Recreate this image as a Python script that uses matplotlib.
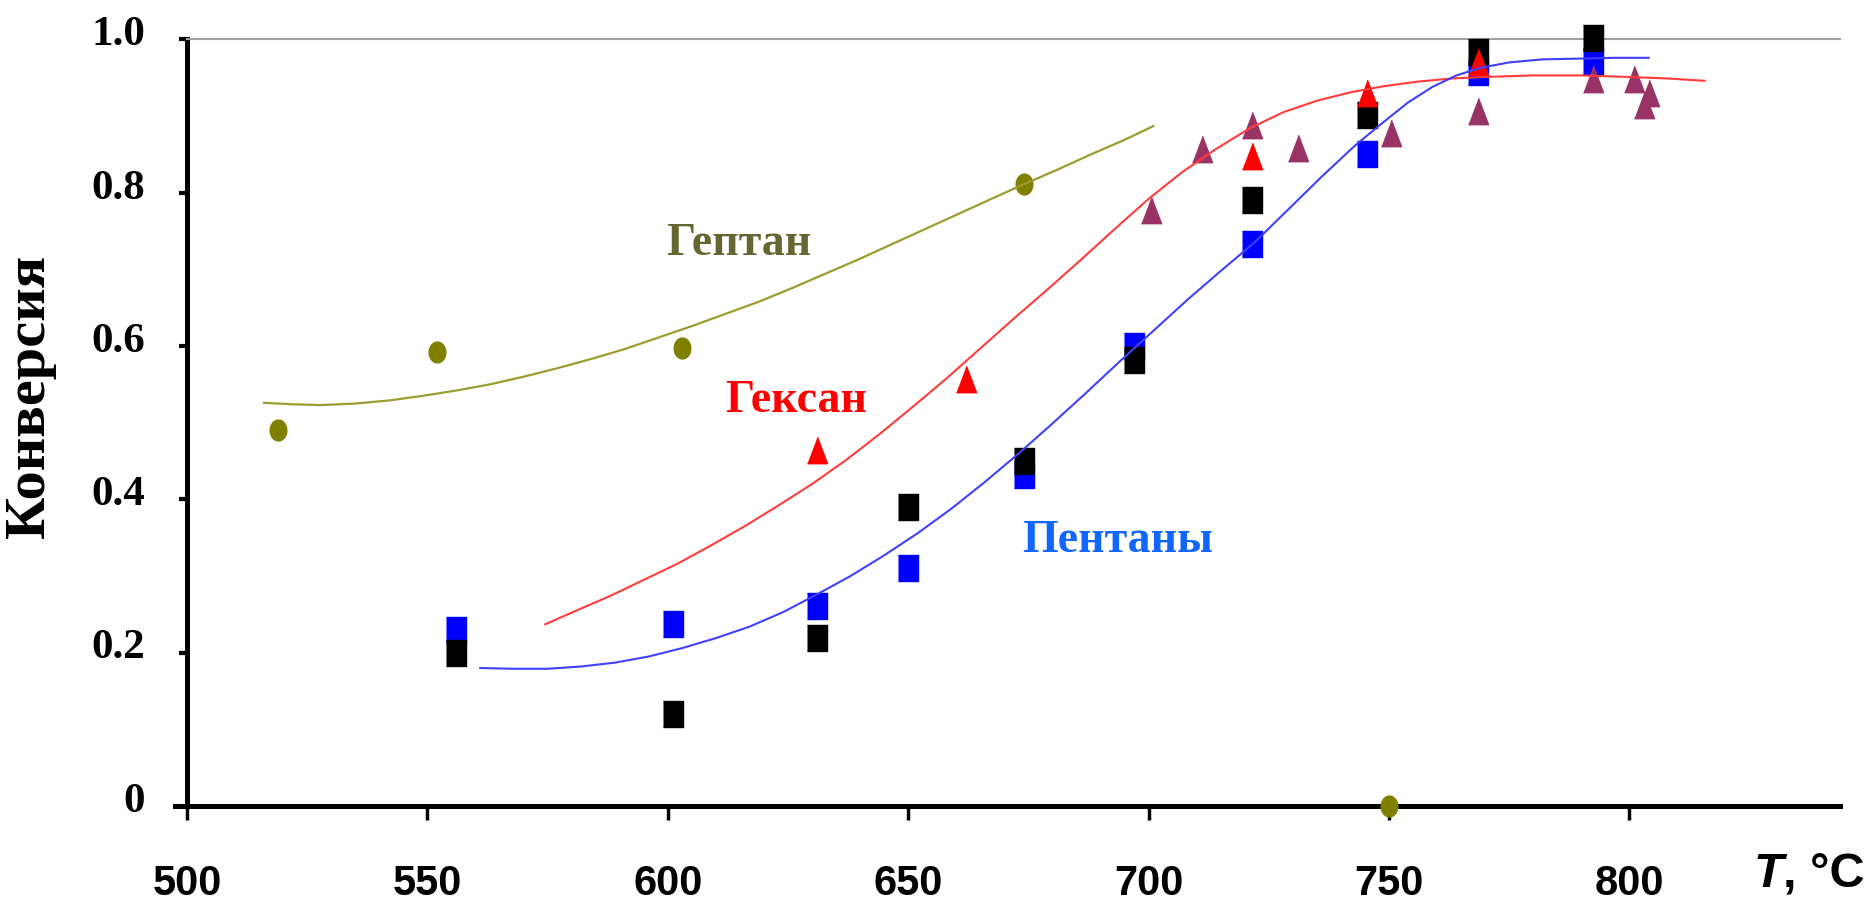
import numpy as np
import matplotlib
matplotlib.use("Agg")
import matplotlib.pyplot as plt
from matplotlib.transforms import ScaledTranslation


# heptane (olive dots + trend curve)
HEPTANE_T = [519, 552, 603, 674, 750]
HEPTANE_CONV = [0.490, 0.592, 0.598, 0.811, 0.0]
HEPTANE_FIT_T = [516, 522, 528, 535, 542, 549, 556, 563, 570, 577, 584, 591, 598,
                 605, 612, 619, 626, 633, 640, 647, 654, 661, 668, 674, 681, 688,
                 695, 701]
HEPTANE_FIT = [0.526, 0.524, 0.523, 0.525, 0.529, 0.535, 0.542, 0.550, 0.560,
               0.571, 0.583, 0.596, 0.611, 0.626, 0.642, 0.658, 0.676, 0.695,
               0.714, 0.734, 0.754, 0.774, 0.794, 0.811, 0.830, 0.850, 0.869,
               0.887]

# hexane (red triangles, purple triangles, red curve)
HEXANE_T = [631, 662, 721.5, 745.5, 768.5]
HEXANE_CONV = [0.464, 0.557, 0.848, 0.930, 0.970]
HEXANE2_T = [700.5, 711, 721.5, 731, 750.5, 768.5, 792.5, 801, 804, 803]
HEXANE2_CONV = [0.777, 0.857, 0.889, 0.858, 0.878, 0.907, 0.948, 0.948, 0.930, 0.914]
HEXANE_FIT_T = [574.5, 581, 588, 595, 602, 609, 616, 623, 630, 637, 644, 651, 658,
                665, 672, 679, 686, 693, 700, 707, 714, 721, 728, 735, 742, 749,
                756, 763, 770, 780, 790, 800, 808, 815.6]
HEXANE_FIT = [0.237, 0.255, 0.274, 0.295, 0.316, 0.340, 0.365, 0.392, 0.420, 0.451,
              0.485, 0.521, 0.558, 0.597, 0.636, 0.674, 0.713, 0.753, 0.792, 0.827,
              0.857, 0.884, 0.905, 0.920, 0.931, 0.939, 0.945, 0.949, 0.951, 0.953,
              0.953, 0.951, 0.949, 0.946]

# pentanes (black and blue squares, blue curve)
PENTANE_T = [556, 601, 631, 650, 674, 697, 721.5, 745.5, 768.5, 792.5]
PENTANE_BLACK = [0.199, 0.120, 0.219, 0.390, 0.450, 0.582, 0.791, 0.901, 0.983, 1.002]
PENTANE_BLUE = [0.229, 0.237, 0.261, 0.310, 0.432, 0.600, 0.733, 0.850, 0.957, 0.972]
PENTANE_FIT_T = [561, 568, 575, 582, 589, 596, 603, 610, 617, 624, 631, 638, 645,
                 652, 659, 666, 673, 680, 687, 694, 701, 708, 715, 722, 729, 736,
                 743, 749, 754, 759, 764, 769, 775, 782, 790, 797, 804]
PENTANE_FIT = [0.180, 0.179, 0.179, 0.182, 0.187, 0.195, 0.206, 0.219, 0.234,
               0.253, 0.276, 0.300, 0.327, 0.356, 0.388, 0.423, 0.460, 0.499,
               0.539, 0.580, 0.620, 0.660, 0.698, 0.735, 0.778, 0.821, 0.862,
               0.893, 0.918, 0.938, 0.953, 0.963, 0.970, 0.974, 0.975, 0.976,
               0.976]

X_TICKS = [500, 550, 600, 650, 700, 750, 800]
Y_TICKS = [0, 0.2, 0.4, 0.6, 0.8, 1.0]
Y_TICK_LABELS = ["0", "0.2", "0.4", "0.6", "0.8", "1.0"]

SERIF = ["Liberation Serif", "DejaVu Serif"]
SANS = ["Liberation Sans", "DejaVu Sans"]

# tall shapes: the original picture is stretched vertically
SQUARE = [(-0.78, -1), (0.78, -1), (0.78, 1), (-0.78, 1)]
TRIANGLE = [(-0.76, -1), (0.76, -1), (0, 1)]
_a = np.linspace(0, 2 * np.pi, 40)
ELLIPSE = list(zip(0.8 * np.cos(_a), np.sin(_a)))


def main():
    fig = plt.figure(figsize=(18.7, 9.04), dpi=100)
    ax = fig.add_axes([0.1, 0.1073, 0.884, 0.848])

    ax.plot(PENTANE_T, PENTANE_BLUE, ls="none", marker=SQUARE, ms=18.5,
            color="#0000ff", clip_on=False, zorder=3)
    ax.plot(PENTANE_T, PENTANE_BLACK, ls="none", marker=SQUARE, ms=18.5,
            color="black", clip_on=False, zorder=4)
    ax.plot(HEXANE_T, HEXANE_CONV, ls="none", marker=TRIANGLE, ms=19,
            color="#ff0000", clip_on=False, zorder=5)
    ax.plot(HEXANE2_T, HEXANE2_CONV, ls="none", marker=TRIANGLE, ms=19,
            color="#993366", clip_on=False, zorder=6)
    ax.plot(HEPTANE_T, HEPTANE_CONV, ls="none", marker=ELLIPSE, ms=15,
            color="#808000", clip_on=False, zorder=7)

    ax.plot(HEPTANE_FIT_T, HEPTANE_FIT, color="#9c9c30", lw=1.6, zorder=8)
    ax.plot(HEXANE_FIT_T, HEXANE_FIT, color="#ff3c3c", lw=1.5, zorder=8)
    ax.plot(PENTANE_FIT_T, PENTANE_FIT, color="#4040ff", lw=1.5, zorder=8)

    ax.text(614.8, 0.72, "Гептан", color="#666633", fontsize=33,
            fontweight="bold", family=SERIF, ha="center", va="baseline")
    ax.text(626.7, 0.515, "Гексан", color="#ff0000", fontsize=33,
            fontweight="bold", family=SERIF, ha="center", va="baseline")
    ax.text(693.6, 0.332, "Пентаны", color="#1166ff", fontsize=33,
            fontweight="bold", family=SERIF, ha="center", va="baseline")

    ax.set_xlim(500, 843.8)
    ax.set_ylim(0, 1.0)

    ax.spines["right"].set_visible(False)
    ax.spines["top"].set_color("#a0a0a0")
    ax.spines["top"].set_linewidth(1.5)
    ax.spines["left"].set_linewidth(3.6)
    ax.spines["bottom"].set_linewidth(3.6)
    ax.spines["bottom"].set_bounds(497.5, 843.8)

    ax.set_xticks(X_TICKS)
    ax.set_xticklabels([str(t) for t in X_TICKS], family=SANS,
                       fontsize=30, fontweight="bold")
    ax.set_yticks(Y_TICKS)
    ax.set_yticklabels(Y_TICK_LABELS, family=SERIF, fontsize=31,
                       fontweight="bold")
    ax.tick_params(axis="x", direction="out", length=10, width=2.5, pad=31)
    ax.tick_params(axis="y", direction="out", length=6, width=3, pad=24)
    for lab in ax.get_yticklabels():
        lab.set_transform(lab.get_transform() +
                          ScaledTranslation(0, 7 / 72, fig.dpi_scale_trans))

    ax.set_ylabel("Конверсия", family=SERIF, fontsize=42, fontweight="bold",
                  labelpad=0)
    ax.yaxis.set_label_coords(-0.079, 0.535)

    unit = fig.text(0.9973, 0.019, ", °C", family=SANS, fontsize=35,
                    fontweight="bold", ha="right", va="baseline")
    ax.annotate("T", xy=(0, 0), xycoords=unit, family=SANS, fontsize=35,
                fontweight="bold", style="italic", ha="right", va="bottom",
                annotation_clip=False)

    fig.savefig("out.png", dpi=100)


if __name__ == "__main__":
    main()
